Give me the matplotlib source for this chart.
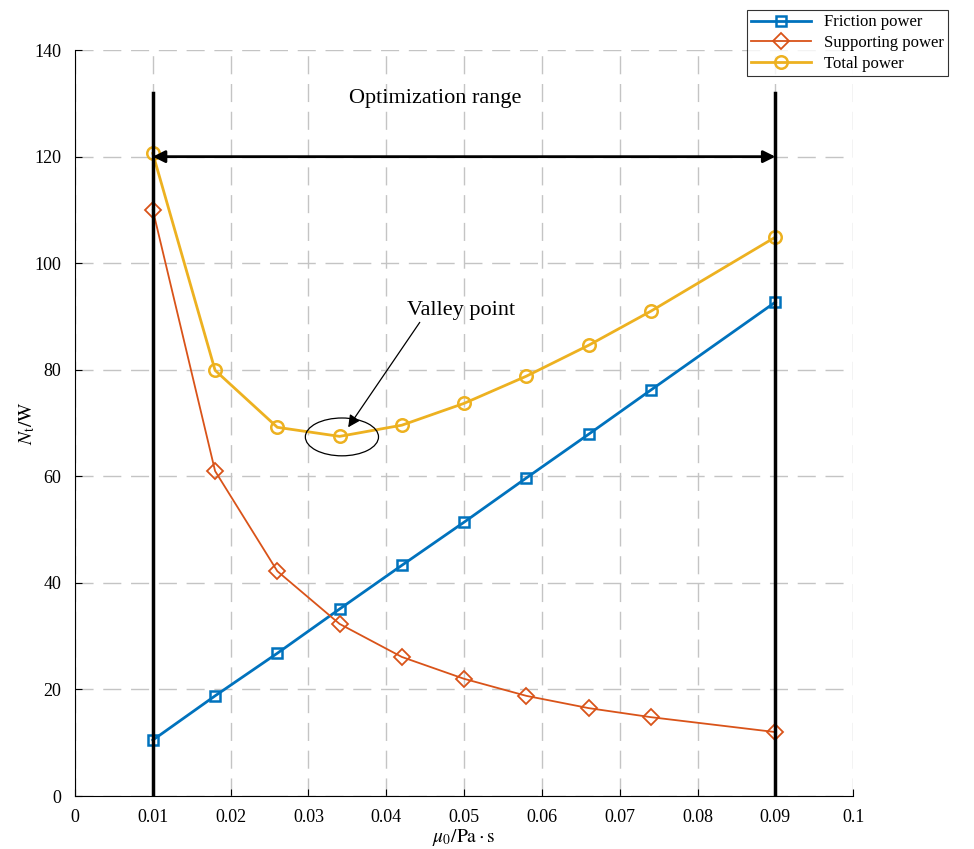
import numpy as np
import matplotlib.pyplot as plt
from matplotlib.patches import Ellipse

plt.rcParams['font.family'] = ['Liberation Serif', 'DejaVu Serif']
plt.rcParams['mathtext.fontset'] = 'stix'

# ----------------------------- data ------------------------------------------
mu = [0.01, 0.018, 0.026, 0.034, 0.042, 0.05, 0.058, 0.066, 0.074, 0.09]
friction = [10.5, 18.8, 26.8, 35.1, 43.3, 51.4, 59.7, 67.9, 76.2, 92.7]
supporting = [110.0, 61.0, 42.2, 32.3, 26.1, 22.0, 18.8, 16.5, 14.8, 12.0]
total = [120.6, 79.9, 69.2, 67.5, 69.6, 73.7, 78.8, 84.6, 91.0, 104.9]

range_lo, range_hi = 0.01, 0.09
range_top = 132
arrow_y = 120

C_BLUE, C_RED, C_YEL = "#0072BD", "#D95319", "#EDB120"

fig = plt.figure(figsize=(9.74, 8.49), dpi=100)
ax = fig.add_axes([0.077, 0.0624, 0.799, 0.8786])

ax.plot(mu, friction, color=C_BLUE, lw=2, marker="s", ms=7, mfc="none", mew=1.8,
        label="Friction power", zorder=4)
ax.plot(mu, supporting, color=C_RED, lw=1.3, marker="D", ms=8, mfc="none", mew=1.3,
        label="Supporting power", zorder=4)
ax.plot(mu, total, color=C_YEL, lw=2, marker="o", ms=9, mfc="none", mew=1.8,
        label="Total power", zorder=4)

# optimization range bars + double arrow
for xv in (range_lo, range_hi):
    ax.plot([xv, xv], [0, range_top], color="black", lw=2.5, zorder=5)
ax.annotate("", xy=(range_hi, arrow_y), xytext=(range_lo, arrow_y),
            arrowprops=dict(arrowstyle="<|-|>", color="black", lw=2,
                            mutation_scale=18, shrinkA=0, shrinkB=0), zorder=6)
ax.text(0.0463, 131, "Optimization range", fontsize=16, ha="center", va="center")

# valley point
ax.add_patch(Ellipse((0.0343, 67.4), 0.0094, 7.1, fill=False, ec="black", lw=0.9, zorder=6))
ax.annotate("", xy=(0.0351, 69.2), xytext=(0.0443, 88.9),
            arrowprops=dict(arrowstyle="-|>", color="black", lw=0.9,
                            mutation_scale=18, shrinkA=0, shrinkB=0))
ax.text(0.0496, 91.2, "Valley point", fontsize=16, ha="center", va="center")

ax.set_xlim(0, 0.1)
ax.set_ylim(0, 140)
ax.set_xticks(np.arange(0, 0.1001, 0.01))
ax.set_xticklabels(["0", "0.01", "0.02", "0.03", "0.04", "0.05", "0.06", "0.07", "0.08", "0.09", "0.1"])
ax.set_yticks(np.arange(0, 141, 20))
ax.tick_params(direction="in", labelsize=13, length=5, zorder=3)
ax.tick_params(axis="x", pad=9)
ax.tick_params(axis="y", pad=10)
ax.grid(True, ls=(0, (13, 7)), color="#c4c4c4", lw=1)
ax.spines["top"].set_visible(False)
ax.spines["right"].set_visible(False)

ax.set_xlabel(r"$\mu_0/\mathrm{Pa \cdot s}$", fontsize=14, labelpad=1)
ax.set_ylabel(r"$N_\mathrm{t}/\mathrm{W}$", fontsize=14, labelpad=-2)

leg = fig.legend(loc="upper right", bbox_to_anchor=(0.9735, 0.988), fontsize=12,
                 frameon=True, fancybox=False, edgecolor="black", handlelength=3.6,
                 borderpad=0.25, labelspacing=0.28, borderaxespad=0)
leg.get_frame().set_linewidth(0.8)

fig.savefig("out.png", dpi=100)
